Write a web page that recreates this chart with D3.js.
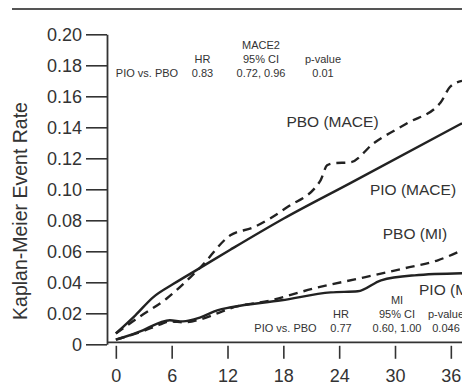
<!DOCTYPE html>
<html>
<head>
<meta charset="utf-8">
<script src="https://cdn.jsdelivr.net/npm/d3@7"></script>
<style>
  body { margin: 0; background: #fff; }
  #grafico { width: 462px; height: 385px; }
  .tick text { font-family: "Liberation Sans", Arial, sans-serif; font-size: 18px; fill: #333; }
  .note { font-family: "Liberation Sans", Arial, sans-serif; font-size: 11px; fill: #333; }
  .serie-label { font-family: "Liberation Sans Narrow", "Liberation Sans", sans-serif; font-size: 15.5px; fill: #333; }
</style>
</head>
<body>
<div id="grafico"></div>
<script>
// Datos (mes, tasa de eventos)
const pioMace = [[0, 0.007], [2.1, 0.0187], [4.0, 0.0303], [6.2, 0.039], [8.7, 0.048],
  [12.3, 0.061], [18, 0.081], [25.2, 0.104], [37.2, 0.1426]];
const pboMace = [[0, 0.007], [2.6, 0.018], [5.5, 0.0297], [8.0, 0.0432], [9.1, 0.0497],
  [12.3, 0.0703], [14.8, 0.0755], [18.4, 0.0884], [22, 0.1058], [22.7, 0.1155],
  [23.4, 0.1168], [25.2, 0.1174], [27.7, 0.1297], [31.3, 0.1426], [34.9, 0.156],
  [35.9, 0.166], [37.2, 0.170]];
const pioMi = [[0, 0.003], [0.5, 0.0039], [2.9, 0.009], [4.8, 0.0142], [5.8, 0.0155],
  [7.2, 0.0148], [9.1, 0.0174], [10.9, 0.0219], [12.4, 0.0239], [17.8, 0.0284],
  [23.1, 0.0335], [26, 0.0342], [28.5, 0.0413], [32.1, 0.0445], [37.2, 0.0458]];
const pboMi = [[0, 0.003], [0.5, 0.0039], [2.9, 0.0084], [4.8, 0.0129], [5.8, 0.0148],
  [7.4, 0.0142], [9.1, 0.0161], [10.9, 0.02], [12.3, 0.0232], [16.7, 0.0284],
  [21.3, 0.0361], [26.7, 0.0432], [31, 0.049], [34.6, 0.0542], [37.2, 0.0606]];

const xTicks = [0, 6, 12, 18, 24, 30, 36];
const yTicks = [0, 0.02, 0.04, 0.06, 0.08, 0.10, 0.12, 0.14, 0.16, 0.18, 0.20];
const yLabels = ["0", "0.02", "0.04", "0.06", "0.08", "0.10", "0.12", "0.14", "0.16", "0.18", "0.20"];

const maceNote = [["", "", "MACE2", ""], ["", "HR", "95% CI", "p-value"], ["PIO vs. PBO", "0.83", "0.72, 0.96", "0.01"]];
const miNote = [["", "", "MI", ""], ["", "HR", "95% CI", "p-value"], ["PIO vs. PBO", "0.77", "0.60, 1.00", "0.046"]];

const width = 462, height = 385;

const svg = d3.select("#grafico")
  .append("svg")
  .attr("width", width)
  .attr("height", height);

// Escalas
const x = d3.scaleLinear().domain([-0.95, 37.2]).range([107, 462]);
const y = d3.scaleLinear().domain([0, 0.2]).range([344.3, 34.3]);

// Linea superior
svg.append("line")
  .attr("x1", 12).attr("x2", width)
  .attr("y1", 9).attr("y2", 9)
  .attr("stroke", "#555").attr("stroke-width", 1.8);

// Eje Y
const yAxis = svg.append("g")
  .attr("transform", `translate(${x.range()[0]},0)`)
  .call(d3.axisLeft(y).tickValues(yTicks).tickSize(21).tickSizeOuter(0).tickPadding(4)
    .tickFormat((d, i) => yLabels[i]));
yAxis.select(".domain").attr("stroke", "#333").attr("stroke-width", 1.8);
yAxis.selectAll(".tick line").attr("stroke", "#333").attr("stroke-width", 1.6);

// Eje X
const xAxis = svg.append("g")
  .attr("transform", `translate(0,${y(0) - 2.5})`)
  .call(d3.axisBottom(x).tickValues(xTicks).tickSizeOuter(0));
xAxis.select(".domain").attr("stroke", "#333").attr("stroke-width", 1.8);
xAxis.selectAll(".tick line").attr("y1", 4).attr("y2", 17)
  .attr("stroke", "#333").attr("stroke-width", 1.6);
xAxis.selectAll(".tick text").attr("y", 27);

// Titulo eje Y
svg.append("text")
  .attr("transform", "translate(27,211) rotate(-90)")
  .attr("text-anchor", "middle")
  .style("font-family", "'Liberation Sans', Arial, sans-serif")
  .style("font-size", "19.5px")
  .style("fill", "#333")
  .text("Kaplan-Meier Event Rate");

// Curvas
const line = d3.line()
  .x(d => x(d[0]))
  .y(d => y(d[1]))
  .curve(d3.curveMonotoneX);

const series = [
  { data: pioMace, dash: null },
  { data: pboMace, dash: "9,6" },
  { data: pioMi, dash: null },
  { data: pboMi, dash: "9,6" }
];

svg.selectAll(".curva")
  .data(series)
  .enter()
  .append("path")
  .attr("class", "curva")
  .attr("d", d => line(d.data))
  .attr("fill", "none")
  .attr("stroke", "#222")
  .attr("stroke-width", 2.4)
  .attr("stroke-dasharray", d => d.dash);

// Etiquetas de las curvas
const labels = [
  { t: "PBO (MACE)", x: 332.5, y: 127, a: "middle" },
  { t: "PIO (MACE)", x: 413, y: 195, a: "middle" },
  { t: "PBO (MI)", x: 415, y: 239, a: "middle" },
  { t: "PIO (MI)", x: 419, y: 295, a: "start" }
];
svg.selectAll(".serie-label")
  .data(labels)
  .enter()
  .append("text")
  .attr("class", "serie-label")
  .attr("x", d => d.x)
  .attr("y", d => d.y)
  .attr("text-anchor", d => d.a)
  .text(d => d.t);

// Cuadros de resultados
function drawNote(rows, cols, baselines) {
  rows.forEach((row, r) => {
    row.forEach((txt, c) => {
      if (!txt) return;
      svg.append("text")
        .attr("class", "note")
        .attr("x", cols[c])
        .attr("y", baselines[r])
        .attr("text-anchor", "middle")
        .text(txt);
    });
  });
}
drawNote(maceNote, [147, 202.5, 261, 323], [49, 62.5, 76.5]);
drawNote(miNote, [285.5, 341, 397, 446], [304, 317.5, 332]);
</script>
</body>
</html>
